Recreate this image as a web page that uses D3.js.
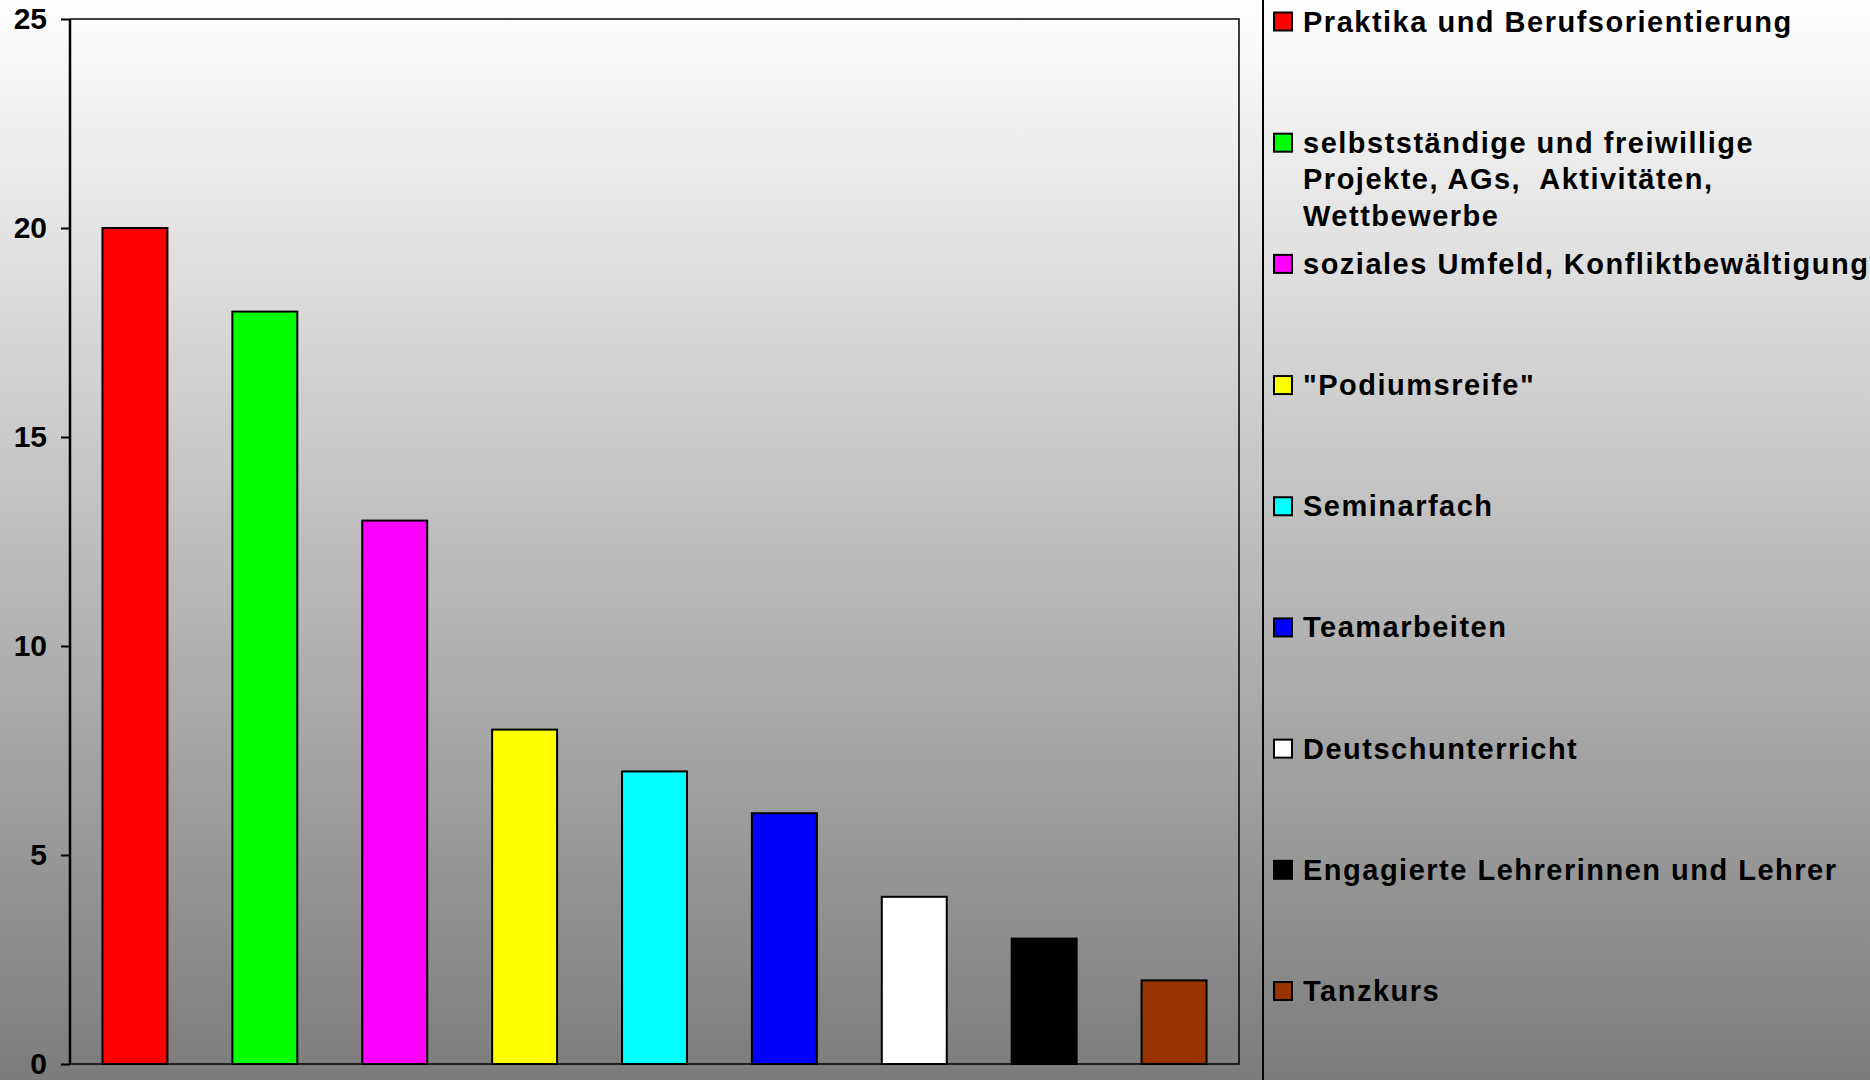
<!DOCTYPE html>
<html>
<head>
<meta charset="utf-8">
<script src="https://cdn.jsdelivr.net/npm/d3@7"></script>
<style>
  body { margin: 0; padding: 0; overflow: hidden; }
  text { font-family: "Liberation Sans", Arial, sans-serif; font-weight: bold; }
</style>
</head>
<body>
<div id="plot"></div>
<script>
var categories = [
  "Praktika und Berufsorientierung",
  "selbstständige und freiwillige\nProjekte, AGs,  Aktivitäten,\nWettbewerbe",
  "soziales Umfeld, Konfliktbewältigung",
  "\"Podiumsreife\"",
  "Seminarfach",
  "Teamarbeiten",
  "Deutschunterricht",
  "Engagierte Lehrerinnen und Lehrer",
  "Tanzkurs"
];
var values = [20, 18, 13, 8, 7, 6, 4, 3, 2];
var colors = ["#ff0000", "#00ff00", "#ff00ff", "#ffff00", "#00ffff", "#0000ff", "#ffffff", "#000000", "#993300"];
var yTicks = [0, 5, 10, 15, 20, 25];

var W = 1870, H = 1080;
var plot = {left: 70, right: 1239, top: 19, bottom: 1064};

var svg = d3.select("#plot").append("svg")
  .attr("width", W)
  .attr("height", H);

// background gradient
var grad = svg.append("defs").append("linearGradient")
  .attr("id", "bg")
  .attr("x1", 0).attr("y1", 0).attr("x2", 0).attr("y2", 1);
grad.append("stop").attr("offset", "0%").attr("stop-color", "#ffffff");
grad.append("stop").attr("offset", "100%").attr("stop-color", "#7c7c7c");

svg.append("rect")
  .attr("width", W)
  .attr("height", H)
  .attr("fill", "url(#bg)");

var x = d3.scaleBand()
  .domain(categories)
  .range([plot.left, plot.right])
  .paddingInner(0.5)
  .paddingOuter(0.25);

var y = d3.scaleLinear()
  .domain([0, 25])
  .range([plot.bottom, plot.top]);

// plot frame (top + right)
svg.append("path")
  .attr("d", "M" + plot.left + "," + plot.top + "H" + plot.right + "V" + plot.bottom + "H" + plot.left)
  .attr("fill", "none")
  .attr("stroke", "#000")
  .attr("stroke-width", 1.5);

// bars
svg.selectAll(".bar")
  .data(values)
  .enter()
  .append("rect")
  .attr("class", "bar")
  .attr("x", function(d, i) { return x(categories[i]); })
  .attr("width", x.bandwidth())
  .attr("y", function(d) { return y(d); })
  .attr("height", function(d) { return y(0) - y(d); })
  .attr("fill", function(d, i) { return colors[i]; })
  .attr("stroke", "#000")
  .attr("stroke-width", 2);

// y axis
var yAxis = svg.append("g")
  .attr("transform", "translate(" + plot.left + ",0)")
  .call(d3.axisLeft(y).tickValues(yTicks).tickSize(9).tickPadding(14));
yAxis.select(".domain")
  .attr("d", "M0," + plot.top + "V" + plot.bottom)
  .attr("stroke-width", 2.5);
yAxis.selectAll(".tick line").attr("stroke-width", 2);
yAxis.selectAll(".tick text")
  .style("font-size", "30px")
  .style("font-family", "'Liberation Sans', Arial, sans-serif")
  .style("font-weight", "bold")
  .attr("fill", "#000");

// legend separator
svg.append("line")
  .attr("x1", 1263).attr("x2", 1263)
  .attr("y1", 0).attr("y2", H)
  .attr("stroke", "#000")
  .attr("stroke-width", 2);

// legend
var ly = d3.scaleLinear().domain([0, categories.length - 1]).range([21.5, 991]);

var items = svg.selectAll(".legend")
  .data(categories)
  .enter()
  .append("g")
  .attr("class", "legend")
  .attr("transform", function(d, i) { return "translate(1274," + ly(i) + ")"; });

items.append("rect")
  .attr("x", 0)
  .attr("y", -9)
  .attr("width", 18)
  .attr("height", 18)
  .attr("fill", function(d, i) { return colors[i]; })
  .attr("stroke", "#000")
  .attr("stroke-width", 2);

items.append("text")
  .attr("x", 29)
  .attr("y", 10)
  .style("font-size", "29px")
  .style("letter-spacing", "1.5px")
  .style("white-space", "pre")
  .attr("fill", "#000")
  .each(function(d) {
    var t = d3.select(this);
    d.split("\n").forEach(function(line, j) {
      t.append("tspan")
        .attr("x", 29)
        .attr("dy", j === 0 ? 0 : 36.5)
        .text(line);
    });
  });
</script>
</body>
</html>
